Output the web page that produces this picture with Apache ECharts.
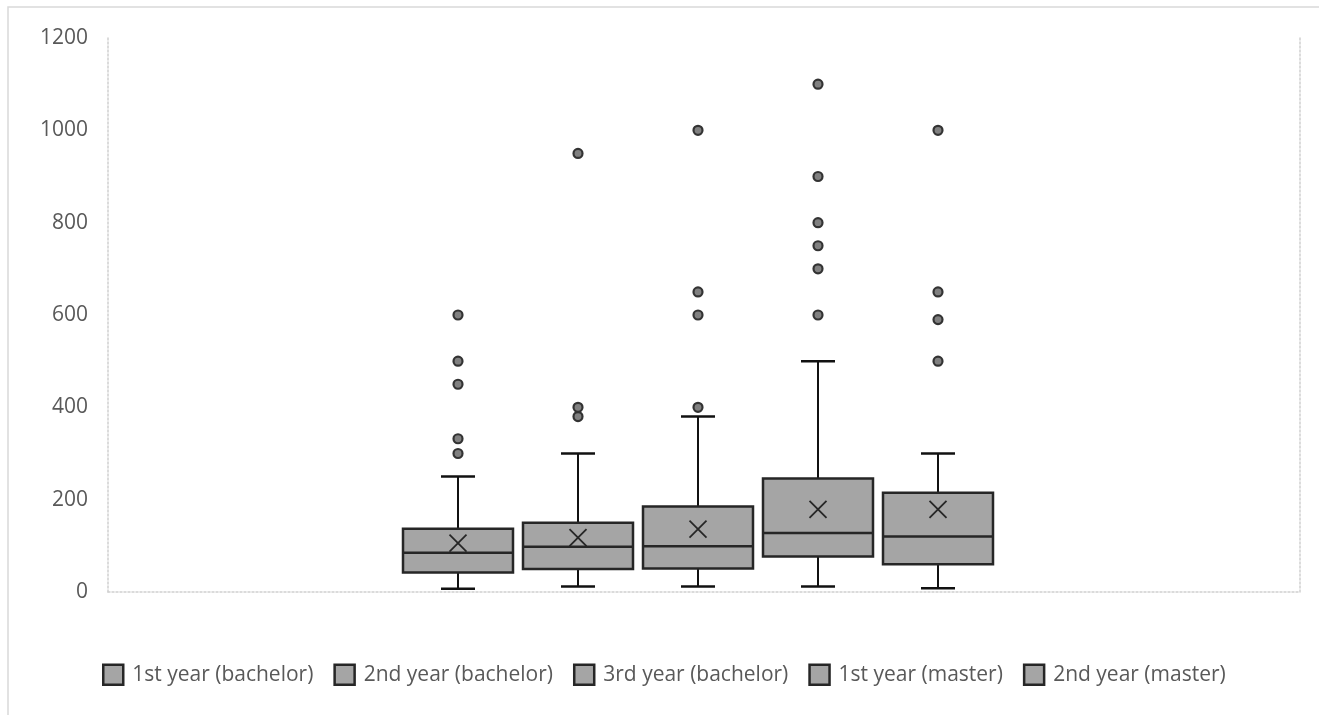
<!DOCTYPE html>
<html>
<head>
<meta charset="utf-8">
<script src="https://cdn.jsdelivr.net/npm/echarts@6/dist/echarts.min.js"></script>
<style>
html,body{margin:0;padding:0;background:#fff;}
#chart{width:1319px;height:715px;}
</style>
</head>
<body>
<div id="chart"></div>
<script>
// ---- data ----
const categories = ['1st year (bachelor)', '2nd year (bachelor)', '3rd year (bachelor)', '1st year (master)', '2nd year (master)'];
const whiskerLow  = [7, 12, 12, 12, 8];
const quartile1   = [42, 50, 51, 77, 60];
const medianVals  = [85, 98, 99, 128, 120];
const quartile3   = [137, 150, 185, 246, 215];
const whiskerHigh = [250, 300, 380, 500, 300];
const meanVals    = [106, 118, 136, 179, 179];
const outliers1 = [300, 332, 450, 500, 600];
const outliers2 = [380, 400, 950];
const outliers3 = [400, 600, 650, 1000];
const outliers4 = [600, 700, 750, 800, 900, 1100];
const outliers5 = [500, 590, 650, 1000];
const outlierLists = [outliers1, outliers2, outliers3, outliers4, outliers5];
const yMin = 0, yMax = 1200, yStep = 200;

// ---- styles ----
const FONT = 'Open Sans';
const TEXT_COLOR = '#595959';
const BOX_FILL = '#a5a5a5';
const DARK = '#262626';

const chart = echarts.init(document.getElementById('chart'), null, {renderer: 'canvas'});

function renderBox(params, api) {
  const i = api.value(0);
  const lo = api.coord([i, api.value(1)]);
  const b1 = api.coord([i, api.value(2)]);
  const md = api.coord([i, api.value(3)]);
  const b3 = api.coord([i, api.value(4)]);
  const hi = api.coord([i, api.value(5)]);
  const mn = api.coord([i, api.value(6)]);
  const band = api.size([1, 0])[0];
  const bw = band * 110 / 120;
  const cw = band * 34 / 120;
  const x = lo[0];
  const lineStyle = {stroke: '#111', lineWidth: 2};
  const m = 8.5;
  return {
    type: 'group',
    children: [
      {type: 'line', shape: {x1: x, y1: hi[1], x2: x, y2: b3[1]}, style: lineStyle},
      {type: 'line', shape: {x1: x, y1: b1[1], x2: x, y2: lo[1]}, style: lineStyle},
      {type: 'line', shape: {x1: x - cw / 2, y1: hi[1], x2: x + cw / 2, y2: hi[1]}, style: {stroke: '#111', lineWidth: 2.5}},
      {type: 'line', shape: {x1: x - cw / 2, y1: lo[1], x2: x + cw / 2, y2: lo[1]}, style: {stroke: '#111', lineWidth: 2.5}},
      {type: 'rect', shape: {x: x - bw / 2, y: b3[1], width: bw, height: b1[1] - b3[1]},
        style: {fill: BOX_FILL, stroke: DARK, lineWidth: 2.5}},
      {type: 'line', shape: {x1: x - bw / 2, y1: md[1], x2: x + bw / 2, y2: md[1]}, style: {stroke: DARK, lineWidth: 2.5}},
      {type: 'line', shape: {x1: x - m, y1: mn[1] - m, x2: x + m, y2: mn[1] + m}, style: {stroke: DARK, lineWidth: 1.8}},
      {type: 'line', shape: {x1: x - m, y1: mn[1] + m, x2: x + m, y2: mn[1] - m}, style: {stroke: DARK, lineWidth: 1.8}}
    ]
  };
}

const series = [];
categories.forEach(function (name, i) {
  series.push({
    name: name,
    type: 'custom',
    xAxisIndex: 1,
    yAxisIndex: 2,
    renderItem: renderBox,
    encode: {x: 0, y: [1, 2, 3, 4, 5, 6]},
    data: [[i, whiskerLow[i], quartile1[i], medianVals[i], quartile3[i], whiskerHigh[i], meanVals[i]]],
    z: 2
  });
  series.push({
    name: name,
    type: 'scatter',
    xAxisIndex: 1,
    yAxisIndex: 2,
    symbol: 'circle',
    symbolSize: 9,
    itemStyle: {color: '#808080', borderColor: '#333', borderWidth: 2.2, opacity: 1},
    data: outlierLists[i].map(function (v) { return [i, v]; }),
    z: 3
  });
});

const dotted = {color: '#cfcfcf', width: 1.5, type: [2, 2]};

chart.setOption({
  animation: false,
  backgroundColor: '#fff',
  graphic: [
    {type: 'rect', shape: {x: 8, y: 7, width: 1400, height: 800}, style: {fill: 'none', stroke: '#d9d9d9', lineWidth: 1.5}, silent: true, z: -1}
  ],
  grid: [
    {left: 108, right: 19, top: 38, bottom: 123, containLabel: false},
    {left: 398, width: 600, top: 38, bottom: 123, containLabel: false}
  ],
  xAxis: [
    {gridIndex: 0, type: 'category', data: [''], axisLine: {show: true, lineStyle: dotted}, axisTick: {show: false}, axisLabel: {show: false}, splitLine: {show: false}},
    {gridIndex: 1, type: 'category', data: categories, show: false}
  ],
  yAxis: [
    {gridIndex: 0, type: 'value', min: yMin, max: yMax, interval: yStep,
      axisLine: {show: true, lineStyle: dotted}, axisTick: {show: false}, splitLine: {show: false},
      axisLabel: {color: TEXT_COLOR, fontSize: 21, fontFamily: FONT, margin: 20,
        formatter: function (v) { return String(v); }}},
    {gridIndex: 0, type: 'value', position: 'right', min: yMin, max: yMax, interval: yStep,
      axisLine: {show: true, lineStyle: dotted}, axisTick: {show: false}, splitLine: {show: false}, axisLabel: {show: false}},
    {gridIndex: 1, type: 'value', min: yMin, max: yMax, interval: yStep, show: false}
  ],
  legend: {
    bottom: 24,
    left: 97,
    itemWidth: 20,
    itemHeight: 20,
    itemGap: 20,
    textStyle: {color: TEXT_COLOR, fontSize: 21, fontFamily: FONT, padding: [0, 0, 0, 4]},
    data: categories.map(function (n) {
      return {name: n, icon: 'rect', itemStyle: {color: BOX_FILL, borderColor: DARK, borderWidth: 2.5}};
    })
  },
  series: series
});
</script>
</body>
</html>
